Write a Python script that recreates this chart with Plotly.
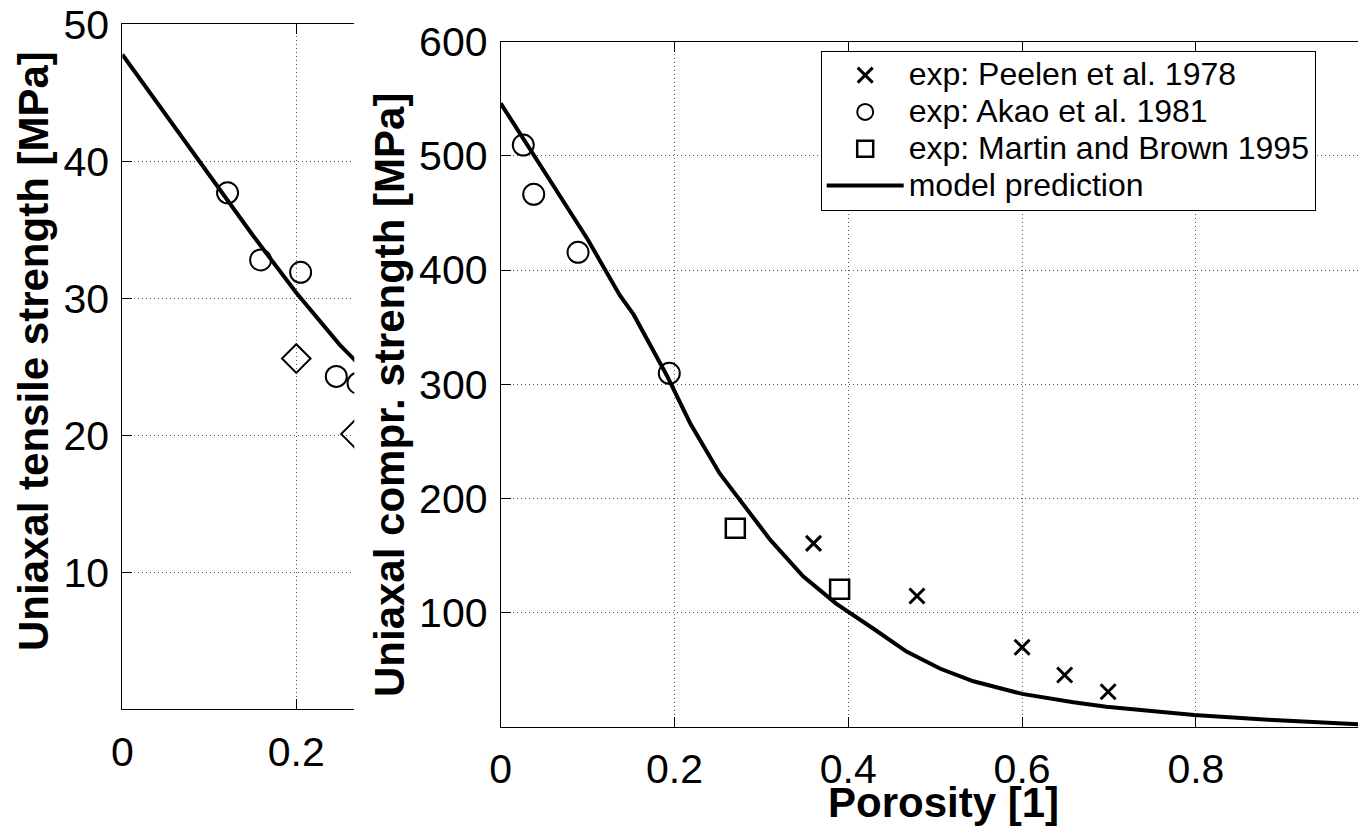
import plotly.graph_objects as go

# The page body adds an 8px margin, so the figure is sized to fit the window
# and every position below is given in window pixels, converted to paper units.
WIN_W, WIN_H = 1366, 827
OFF = 8
W, H = WIN_W - OFF, WIN_H - OFF
FONT = "Liberation Sans"


def px(x):
    return (x - OFF) / W


def py(y):
    return (WIN_H - y) / H


# ---------------- left panel: uniaxial tensile strength ----------------
tens_akao_x = [0.121, 0.159, 0.205, 0.246, 0.271]
tens_akao_y = [37.7, 32.8, 31.9, 24.3, 23.8]
tens_dia_x = [0.200, 0.268]
tens_dia_y = [25.6, 20.1]
tens_model_x = [0.0, 0.15, 0.20, 0.25, 0.30]
tens_model_y = [47.8, 34.6, 30.4, 26.6, 23.4]
tens_xticks = [0, 0.2]
tens_xticklabels = ["0", "0.2"]
tens_yticks = [10, 20, 30, 40, 50]

# ---------------- right panel: uniaxial compressive strength ----------------
peelen_x = [0.360, 0.479, 0.600, 0.649, 0.699]
peelen_y = [160.8, 114.7, 69.8, 45.5, 30.9]
akao_x = [0.026, 0.038, 0.089, 0.194]
akao_y = [509.5, 466.4, 415.6, 309.7]
martin_x = [0.270, 0.390]
martin_y = [174.0, 120.5]
model_x = [0.0, 0.05, 0.10, 0.137, 0.153, 0.191, 0.218, 0.252, 0.272, 0.31,
           0.348, 0.386, 0.429, 0.467, 0.506, 0.544, 0.600, 0.659, 0.697,
           0.798, 0.889, 0.974, 1.0]
model_y = [546, 486, 427, 378, 361, 308, 266, 222, 202, 164,
           132, 108, 86, 66, 51, 40, 29, 21.6, 17.8,
           10.5, 6.1, 3.2, 2.0]
comp_xticks = [0, 0.2, 0.4, 0.6, 0.8]
comp_xticklabels = ["0", "0.2", "0.4", "0.6", "0.8"]
comp_yticks = [100, 200, 300, 400, 500, 600]

legend_names = ["exp: Peelen et al. 1978", "exp: Akao et al. 1981",
                "exp: Martin and Brown 1995", "model prediction"]


def leg(name):
    return '<span style="font-size:32px">' + name + '</span>'


fig = go.Figure()

# left panel traces
fig.add_trace(go.Scatter(x=tens_model_x, y=tens_model_y, mode="lines",
                         line=dict(color="black", width=4),
                         xaxis="x", yaxis="y", showlegend=False))
fig.add_trace(go.Scatter(x=tens_akao_x, y=tens_akao_y, mode="markers",
                         marker=dict(symbol="circle-open", size=21, color="black",
                                     line=dict(width=2, color="black")),
                         xaxis="x", yaxis="y", showlegend=False))
fig.add_trace(go.Scatter(x=tens_dia_x, y=tens_dia_y, mode="markers",
                         marker=dict(symbol="diamond-open", size=22, color="black",
                                     line=dict(width=2, color="black")),
                         xaxis="x", yaxis="y", showlegend=False))

# right panel traces
fig.add_trace(go.Scatter(x=peelen_x, y=peelen_y, mode="markers", name=leg(legend_names[0]),
                         marker=dict(symbol="x-thin-open", size=15, color="black",
                                     line=dict(width=3, color="black")),
                         xaxis="x2", yaxis="y2"))
fig.add_trace(go.Scatter(x=akao_x, y=akao_y, mode="markers", name=leg(legend_names[1]),
                         marker=dict(symbol="circle-open", size=21, color="black",
                                     line=dict(width=2, color="black")),
                         xaxis="x2", yaxis="y2"))
fig.add_trace(go.Scatter(x=martin_x, y=martin_y, mode="markers", name=leg(legend_names[2]),
                         marker=dict(symbol="square-open", size=19, color="black",
                                     line=dict(width=2.5, color="black")),
                         xaxis="x2", yaxis="y2"))
fig.add_trace(go.Scatter(x=model_x, y=model_y, mode="lines", name=leg(legend_names[3]),
                         line=dict(color="black", width=4),
                         xaxis="x2", yaxis="y2"))

axis_common = dict(
    showline=True, linecolor="black", linewidth=1,
    ticks="inside", ticklen=10, tickwidth=1, tickcolor="black",
    showgrid=True, gridcolor="#555555", gridwidth=1, griddash="1px,3px",
    zeroline=False, tickfont=dict(family=FONT, size=41, color="black"),
    fixedrange=True, automargin=False, ticklabeloverflow="allow",
)

fig.update_layout(
    width=W, height=H, autosize=False,
    margin=dict(l=0, r=0, t=0, b=0, pad=0, autoexpand=False),
    paper_bgcolor="white", plot_bgcolor="white",
    font=dict(family=FONT, color="black"),
    xaxis=dict(domain=[px(122.3), px(354.3)], range=[0, 0.2667],
               tickvals=tens_xticks, ticktext=tens_xticklabels,
               mirror="ticks", anchor="y", ticklabelstandoff=6, **axis_common),
    yaxis=dict(domain=[py(709.3), py(24.3)], range=[0, 50],
               tickvals=tens_yticks, mirror=False, anchor="x",
               ticklabelstandoff=4, **axis_common),
    xaxis2=dict(domain=[px(500.7), 1.0], range=[0, (WIN_W - 500.7) / 869.0],
                tickvals=comp_xticks, ticktext=comp_xticklabels,
                mirror="ticks", anchor="y2", ticklabelstandoff=6, **axis_common),
    yaxis2=dict(domain=[py(727), py(41.7)], range=[0, 600],
                tickvals=comp_yticks, mirror=False, anchor="x2",
                ticklabelstandoff=4, **axis_common),
    legend=dict(x=px(820.7), y=py(50.7), xanchor="left", yanchor="top",
                bgcolor="white", bordercolor="black", borderwidth=1,
                font=dict(family=FONT, size=26, color="black"),
                itemwidth=77, tracegroupgap=0),
    showlegend=True,
)

# axis titles as annotations (precise positions)
fig.add_annotation(text="<b>Uniaxal tensile strength [MPa]</b>", textangle=-90,
                   xref="paper", yref="paper", x=px(34), y=py(351),
                   xanchor="center", yanchor="middle", showarrow=False,
                   font=dict(family=FONT, size=42, color="black"))
fig.add_annotation(text="<b>Uniaxal compr. strength [MPa]</b>", textangle=-90,
                   xref="paper", yref="paper", x=px(389), y=py(395),
                   xanchor="center", yanchor="middle", showarrow=False,
                   font=dict(family=FONT, size=42, color="black"))
fig.add_annotation(text="<b>Porosity [1]</b>",
                   xref="paper", yref="paper", x=px(943), y=py(802),
                   xanchor="center", yanchor="middle", showarrow=False,
                   font=dict(family=FONT, size=42, color="black"))
# partially visible last tick label at porosity 1
fig.add_annotation(text="1", xref="paper", yref="paper",
                   x=px(500.7 + 869), y=py(757),
                   xanchor="center", yanchor="middle", showarrow=False,
                   font=dict(family=FONT, size=41, color="black"))

fig.write_html("out.html")
